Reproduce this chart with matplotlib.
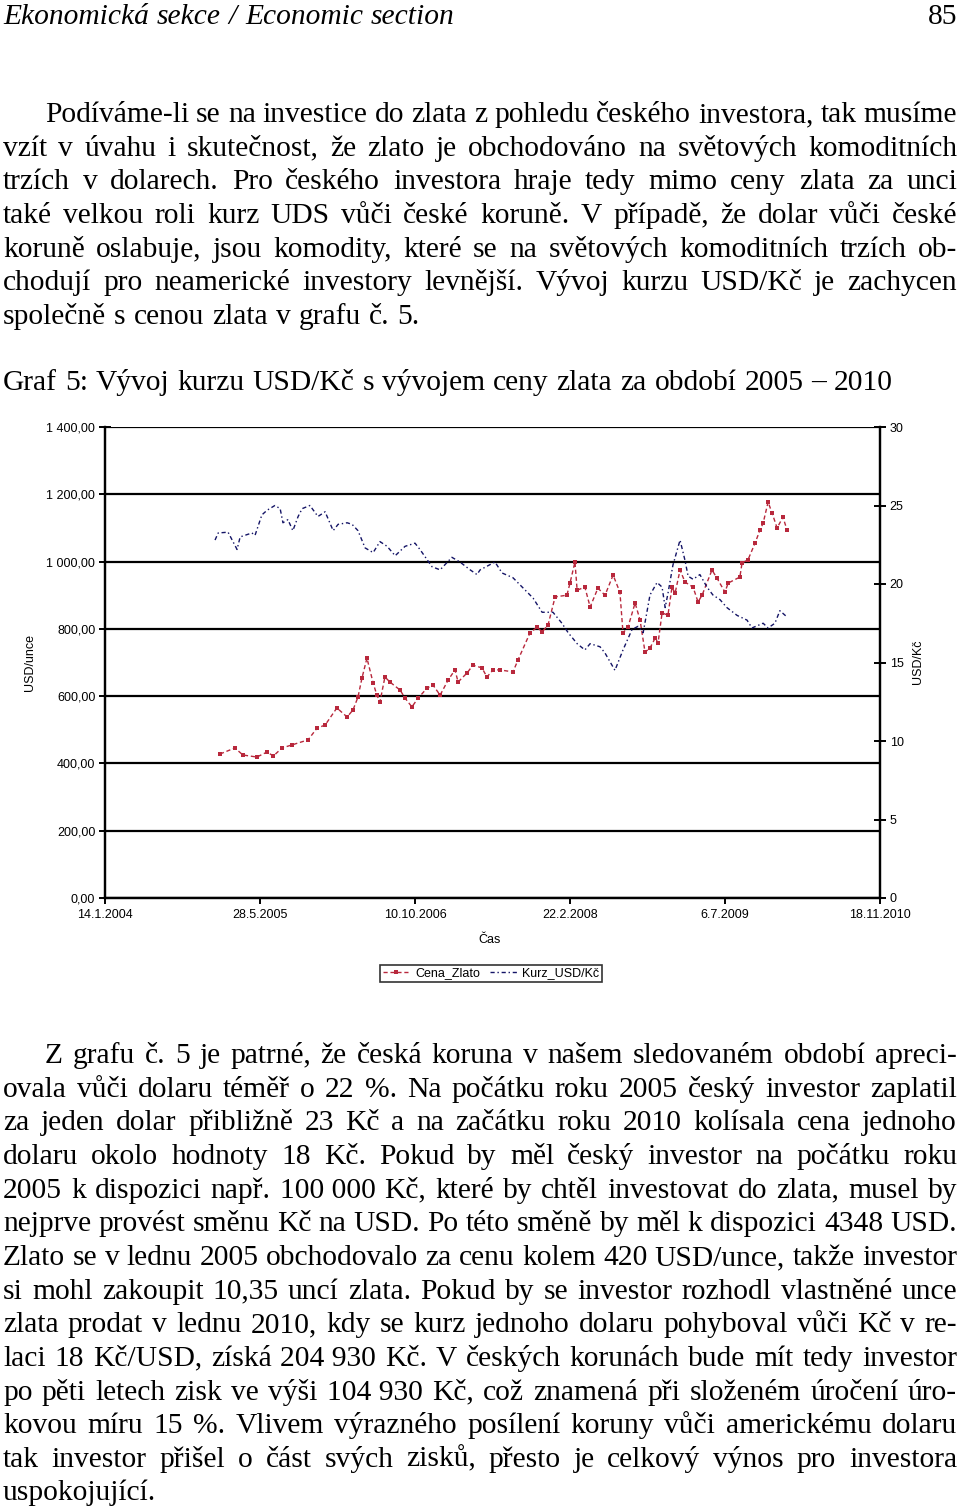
import matplotlib
matplotlib.use("Agg")
import matplotlib.pyplot as plt
import pandas as pd

# ---------------- data ----------------
gold_dates = ["2005-01-19", "2005-03-08", "2005-04-03", "2005-05-18", "2005-06-20", "2005-07-10",
              "2005-08-07", "2005-09-08", "2005-10-30", "2005-11-28", "2005-12-24", "2006-01-31",
              "2006-03-05", "2006-03-24", "2006-04-09", "2006-04-22", "2006-05-08", "2006-05-28",
              "2006-06-09", "2006-06-19", "2006-07-05", "2006-07-21", "2006-08-23", "2006-09-08",
              "2006-09-30", "2006-10-20", "2006-11-18", "2006-12-07", "2006-12-30", "2007-01-25",
              "2007-02-16", "2007-02-26", "2007-03-27", "2007-04-15", "2007-05-14", "2007-05-30",
              "2007-06-19", "2007-07-11", "2007-08-22", "2007-09-07", "2007-10-16", "2007-11-08",
              "2007-11-24", "2007-12-13", "2008-01-05", "2008-02-12", "2008-02-22", "2008-03-09",
              "2008-03-16", "2008-04-10", "2008-04-27", "2008-05-22", "2008-06-14", "2008-07-10",
              "2008-08-01", "2008-08-11", "2008-08-27", "2008-09-19", "2008-10-05", "2008-10-21",
              "2008-11-06", "2008-11-23", "2008-12-02", "2008-12-15", "2009-01-03", "2009-01-16",
              "2009-01-26", "2009-02-11", "2009-02-27", "2009-03-25", "2009-04-10", "2009-04-23",
              "2009-05-25", "2009-06-10", "2009-07-06", "2009-07-16", "2009-08-23", "2009-08-30",
              "2009-09-18", "2009-10-11", "2009-10-27", "2009-11-06", "2009-11-22", "2009-12-05",
              "2009-12-21", "2010-01-09", "2010-01-22"]
gold_values = [428, 446, 425, 419, 434, 422,
               446, 455, 470, 505, 514, 565,
               538, 559, 597, 654, 713, 639,
               603, 583, 657, 642, 618, 594,
               568, 594, 624, 633, 603, 648,
               678, 642, 669, 692, 684, 657,
               678, 678, 672, 707, 788, 805,
               791, 811, 895, 900, 936, 999,
               915, 924, 865, 921, 900, 960,
               909, 788, 805, 877, 826, 731,
               743, 773, 758, 847, 841, 924,
               906, 975, 939, 924, 880, 900,
               975, 951, 909, 936, 954, 996,
               1005, 1055, 1094, 1114, 1177, 1144,
               1100, 1132, 1094]

kurz_dates = ["2005-01-03", "2005-01-13", "2005-02-14", "2005-03-15", "2005-03-25", "2005-05-02",
              "2005-05-12", "2005-06-03", "2005-06-20", "2005-07-15", "2005-08-01", "2005-08-10",
              "2005-08-26", "2005-09-11", "2005-09-28", "2005-10-11", "2005-11-05", "2005-12-01",
              "2005-12-24", "2006-01-19", "2006-02-04", "2006-03-05", "2006-03-21", "2006-04-09",
              "2006-05-02", "2006-05-28", "2006-06-19", "2006-07-12", "2006-08-07", "2006-09-08",
              "2006-10-10", "2006-10-26", "2006-12-04", "2006-12-30", "2007-02-06", "2007-03-04",
              "2007-04-06", "2007-04-28", "2007-05-08", "2007-06-25", "2007-07-18", "2007-08-22",
              "2007-10-06", "2007-10-26", "2007-11-24", "2007-12-29", "2008-01-27", "2008-02-16",
              "2008-03-16", "2008-04-10", "2008-04-27", "2008-05-29", "2008-06-14", "2008-07-16",
              "2008-08-11", "2008-09-09", "2008-09-28", "2008-10-15", "2008-10-27", "2008-11-06",
              "2008-11-29", "2008-12-15", "2008-12-25", "2009-01-03", "2009-01-19", "2009-02-11",
              "2009-02-27", "2009-03-09", "2009-03-25", "2009-04-16", "2009-05-09", "2009-05-28",
              "2009-06-20", "2009-07-12", "2009-08-14", "2009-09-15", "2009-10-01", "2009-11-06",
              "2009-11-22", "2009-12-14", "2009-12-30", "2010-01-22"]
kurz_values = [22.8, 23.25, 23.3, 22.2, 23.0, 23.25,
               23.1, 24.4, 24.7, 25.0, 24.8, 23.9,
               24.1, 23.4, 24.3, 24.8, 25.0, 24.3,
               24.6, 23.4, 23.8, 23.9, 23.8, 23.4,
               22.3, 22.0, 22.7, 22.4, 21.8, 22.4,
               22.6, 22.2, 21.1, 20.9, 21.7, 21.4,
               20.9, 20.6, 20.9, 21.4, 20.7, 20.4,
               19.5, 19.1, 18.2, 18.2, 17.5, 16.9,
               16.2, 15.8, 16.2, 16.0, 15.6, 14.5,
               15.8, 17.1, 17.3, 16.9, 18.2, 19.3,
               20.1, 19.8, 18.5, 19.4, 21.2, 22.8,
               21.5, 20.5, 20.3, 20.6, 19.8, 19.3,
               19.0, 18.5, 18.0, 17.7, 17.2, 17.5,
               17.2, 17.5, 18.3, 17.9]

x_start = "2004-01-14"
x_tick_step_days = 500
x_tick_count = 6
left_ticks = [0, 200, 400, 600, 800, 1000, 1200, 1400]
right_ticks = [0, 5, 10, 15, 20, 25, 30]

series_names = ["Cena_Zlato", "Kurz_USD/Kč"]
y_label_left = "USD/unce"
y_label_right = "USD/Kč"
x_label = "Čas"

header_left = "Ekonomická sekce / Economic section"
header_right = "85"
para1 = [
    "Podíváme-li se na investice do zlata z pohledu českého investora, tak musíme",
    "vzít v úvahu i skutečnost, že zlato je obchodováno na světových komoditních",
    "trzích v dolarech. Pro českého investora hraje tedy mimo ceny zlata za unci",
    "také velkou roli kurz UDS vůči české koruně. V případě, že dolar vůči české",
    "koruně oslabuje, jsou komodity, které se na světových komoditních trzích ob-",
    "chodují pro neamerické investory levnější. Vývoj kurzu USD/Kč je zachycen",
    "společně s cenou zlata v grafu č. 5.",
]
caption = "Graf 5: Vývoj kurzu USD/Kč s vývojem ceny zlata za období 2005 – 2010"
para2 = [
    "Z grafu č. 5 je patrné, že česká koruna v našem sledovaném období apreci-",
    "ovala vůči dolaru téměř o 22 %. Na počátku roku 2005 český investor zaplatil",
    "za jeden dolar přibližně 23 Kč a na začátku roku 2010 kolísala cena jednoho",
    "dolaru okolo hodnoty 18 Kč. Pokud by měl český investor na počátku roku",
    "2005 k dispozici např. 100\u00a0000 Kč, které by chtěl investovat do zlata, musel by",
    "nejprve provést směnu Kč na USD. Po této směně by měl k dispozici 4348 USD.",
    "Zlato se v lednu 2005 obchodovalo za cenu kolem 420 USD/unce, takže investor",
    "si mohl zakoupit 10,35 uncí zlata. Pokud by se investor rozhodl vlastněné unce",
    "zlata prodat v lednu 2010, kdy se kurz jednoho dolaru pohyboval vůči Kč v re-",
    "laci 18 Kč/USD, získá 204\u00a0930 Kč. V českých korunách bude mít tedy investor",
    "po pěti letech zisk ve výši 104\u00a0930 Kč, což znamená při složeném úročení úro-",
    "kovou míru 15 %. Vlivem výrazného posílení koruny vůči americkému dolaru",
    "tak investor přišel o část svých zisků, přesto je celkový výnos pro investora",
    "uspokojující.",
]

# ---------------- figure ----------------
W, H = 960, 1510
fig = plt.figure(figsize=(W / 100, H / 100), dpi=100)
fig.patch.set_facecolor("white")
renderer = fig.canvas.get_renderer()

SERIF = ["Liberation Serif", "DejaVu Serif"]
SANS = ["Liberation Sans", "DejaVu Sans"]
LX0, LX1 = 3, 957
INDENT = 45
LS = 33.65


def fxy(x, y):
    return x / W, 1 - y / H


def words_width(text, size):
    tot = 0
    for w in text.split(" "):
        t = fig.text(0, 0, w, fontsize=size, family=SERIF)
        tot += t.get_window_extent(renderer).width
        t.remove()
    return tot


# font size: caption ~910 px wide, but every justified line must keep gaps >= 0.24 em
REF = 20.0
probe = fig.text(0, 0, caption, fontsize=REF, family=SERIF)
BODY = REF * 910 / probe.get_window_extent(renderer).width
probe.remove()
for plist in (para1, para2):
    for i, line in enumerate(plist[:-1]):
        avail = LX1 - (INDENT if i == 0 else LX0)
        ww = words_width(line, REF)
        ng = len(line.split(" ")) - 1
        em = REF * 100 / 72
        s = avail / (ww + ng * 0.24 * em) * REF
        BODY = min(BODY, s)
space_px = BODY * 100 / 72 * 0.27


def place_line(text, x0, x1, yb, justify, size=None, style="normal"):
    size = size or BODY
    words = text.split(" ")
    objs = [fig.text(0, 0, w, fontsize=size, family=SERIF, style=style,
                     va="baseline", ha="left") for w in words]
    widths = [o.get_window_extent(renderer).width for o in objs]
    if justify and len(words) > 1:
        gap = (x1 - x0 - sum(widths)) / (len(words) - 1)
    else:
        gap = space_px
    x = x0
    for o, w in zip(objs, widths):
        o.set_position(fxy(x, yb))
        x += w + gap


# header
place_line(header_left, LX0, LX1, 24, False, style="italic")
fig.text(*fxy(957, 24), header_right, fontsize=BODY, family=SERIF, ha="right", va="baseline")

# paragraph 1
for i, line in enumerate(para1):
    place_line(line, INDENT if i == 0 else LX0, LX1, 122 + i * LS, i < len(para1) - 1)

# caption
place_line(caption, LX0, LX1, 390, False)

# paragraph 2
for i, line in enumerate(para2):
    place_line(line, INDENT if i == 0 else LX0, LX1, 1063 + i * LS, i < len(para2) - 1)

# ---------------- chart ----------------
ax = fig.add_axes([105 / W, 1 - 898 / H, 775 / W, 471 / H])
ax2 = ax.twinx()

gd = pd.to_datetime(gold_dates)
kd = pd.to_datetime(kurz_dates)
xticks = pd.date_range(x_start, periods=x_tick_count, freq=f"{x_tick_step_days}D")

GOLD_C = "#b8283c"
KURZ_C = "#141466"

ax.plot(gd, gold_values, color=GOLD_C, lw=1.0, linestyle=(0, (3, 2)),
        marker="s", markersize=2.5, markeredgewidth=0, label=series_names[0])
ax2.plot(kd, kurz_values, color=KURZ_C, lw=1.0, linestyle=(0, (3, 2, 1, 2)),
         label=series_names[1])

ax.set_xlim(xticks[0], xticks[-1])
ax.set_ylim(0, 1400)
ax2.set_ylim(0, 30)

ax.set_xticks(xticks)
ax.set_xticklabels([f"{d.day}.{d.month}.{d.year}" for d in xticks])
ax.set_yticks(left_ticks)
ax.set_yticklabels([f"{v:,.2f}".replace(",", " ").replace(".", ",") for v in left_ticks])
ax2.set_yticks(right_ticks)
ax2.set_yticklabels([str(v) for v in right_ticks])

ax.grid(axis="y", color="black", lw=1.6)
ax.grid(axis="x", visible=False)
ax.set_axisbelow(True)

for a in (ax, ax2):
    a.spines["top"].set_visible(False)
    for s in ("left", "right", "bottom"):
        a.spines[s].set_linewidth(1.6)
        a.spines[s].set_color("black")

TICK_FS = 9
ax.tick_params(axis="y", direction="inout", length=8, width=1.4, pad=3,
               labelsize=TICK_FS, labelfontfamily=SANS)
ax.tick_params(axis="x", direction="out", length=4, width=1.4, pad=4,
               labelsize=TICK_FS, labelfontfamily=SANS)
ax2.tick_params(axis="y", direction="inout", length=8, width=1.4, pad=3,
                labelsize=TICK_FS, labelfontfamily=SANS)

fig.text(*fxy(30, 662), y_label_left, rotation=90, ha="center", va="center",
         fontsize=TICK_FS, family=SANS)
fig.text(*fxy(918, 662), y_label_right, rotation=90, ha="center", va="center",
         fontsize=TICK_FS, family=SANS)
fig.text(*fxy(490, 940), x_label, ha="center", va="center", fontsize=TICK_FS, family=SANS)

h1, l1 = ax.get_legend_handles_labels()
h2, l2 = ax2.get_legend_handles_labels()
leg = fig.legend(h1 + h2, l1 + l2, loc="center", bbox_to_anchor=fxy(491, 973), ncol=2,
                 prop={"family": SANS, "size": TICK_FS}, frameon=True, fancybox=False,
                 edgecolor="black", borderpad=0.2, handlelength=2.2, handletextpad=0.4,
                 columnspacing=0.8)
leg.get_frame().set_linewidth(1.2)

fig.savefig("out.png", dpi=100)
